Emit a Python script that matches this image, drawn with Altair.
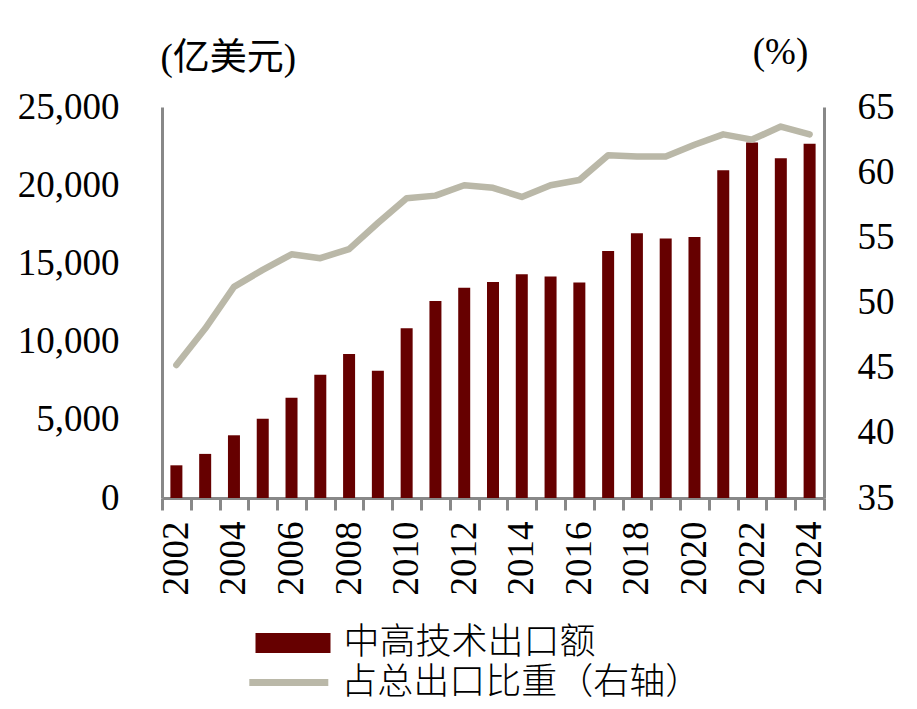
import altair as alt
import pandas as pd

years = ["2002", "2003", "2004", "2005", "2006", "2007", "2008", "2009", "2010", "2011", "2012",
         "2013", "2014", "2015", "2016", "2017", "2018", "2019", "2020", "2021", "2022", "2023", "2024"]
export_value = [2090, 2820, 4010, 5060, 6410, 7880, 9210, 8140, 10850, 12600, 13440,
                13810, 14310, 14170, 13780, 15790, 16920, 16600, 16690, 20960, 22730, 21730, 22650]
share_pct = [45.2, 48.0, 51.2, 52.5, 53.7, 53.4, 54.1, 56.1, 58.0, 58.2, 59.0,
             58.8, 58.1, 59.0, 59.4, 61.3, 61.2, 61.2, 62.1, 62.9, 62.5, 63.5, 62.9]
bar_name = "中高技术出口额"
line_name = "占总出口比重（右轴）"
left_ticks = [0, 5000, 10000, 15000, 20000, 25000]
right_ticks = [35, 40, 45, 50, 55, 60, 65]

df = pd.DataFrame({"year": years, "value": export_value, "share": share_pct,
                   "bar_s": bar_name, "line_s": line_name})

FONT = "Liberation Serif, Times New Roman, Noto Sans CJK SC"
GRAY = "#888888"
BAR = "#660000"
LINE = "#BAB8A8"

x_enc = alt.X(
    "year:O", title=None,
    scale=alt.Scale(paddingInner=0, paddingOuter=0),
    axis=alt.Axis(
        tickBand="extent", ticks=True, tickSize=12, tickWidth=3, tickColor=GRAY,
        domainColor=GRAY, domainWidth=3, labelAngle=-90, labelPadding=11,
        labelFont=FONT, labelFontSize=37, labelColor="black",
        labelExpr="parseInt(datum.label) % 2 == 0 ? datum.label : ''",
        labelOverlap=False, grid=False,
    ),
)

bars = alt.Chart(df).mark_bar(size=12).encode(
    x=x_enc,
    y=alt.Y("value:Q", scale=alt.Scale(domain=[0, 25000], nice=False),
            axis=alt.Axis(values=left_ticks, format=",.0f", ticks=False, grid=False,
                          domainColor=GRAY, domainWidth=3, labelPadding=43,
                          labelFont=FONT, labelFontSize=37, labelColor="black",
                          title="(亿美元)", titleAngle=0, titleAlign="left",
                          titleBaseline="middle", titleX=-2, titleY=-49,
                          titleFont=FONT, titleFontSize=37, titleFontWeight="normal",
                          titleColor="black")),
    color=alt.Color("bar_s:N", scale=alt.Scale(domain=[bar_name], range=[BAR]),
                    legend=alt.Legend(title=None, orient="none", legendX=113, legendY=518,
                                      symbolType="M-3.75,-1H3.75V1H-3.75Z", symbolSize=400,
                                      symbolStrokeWidth=0, symbolOpacity=1, padding=0,
                                      labelOffset=32.5, labelFont=FONT, labelFontSize=36,
                                      labelFontWeight=300,
                                      labelColor="black", labelLimit=0)),
)

line = alt.Chart(df).mark_line(strokeWidth=6.5, strokeCap="round", strokeJoin="round").encode(
    x=x_enc,
    y=alt.Y("share:Q", scale=alt.Scale(domain=[35, 65], nice=False, zero=False),
            axis=alt.Axis(orient="right", values=right_ticks, ticks=False, grid=False,
                          domainColor=GRAY, domainWidth=3, labelPadding=33,
                          labelFont=FONT, labelFontSize=37, labelColor="black",
                          title="(%)", titleAngle=0, titleAlign="center",
                          titleBaseline="middle", titleX=-44, titleY=-54.5,
                          titleFont=FONT, titleFontSize=37, titleFontWeight="normal",
                          titleColor="black")),
    stroke=alt.Stroke("line_s:N", scale=alt.Scale(domain=[line_name], range=[LINE]),
                      legend=alt.Legend(title=None, orient="none", legendX=108.8, legendY=557.5,
                                        symbolType="M-3.95,0H3.95", symbolSize=400,
                                        symbolStrokeWidth=7, padding=0,
                                        labelOffset=34.5, labelFont=FONT, labelFontSize=36,
                                        labelFontWeight=300,
                                        labelColor="black", labelLimit=0)),
)

chart = alt.layer(bars, line).resolve_scale(
    y="independent", color="independent", stroke="independent"
).properties(
    width=662, height=391,
    autosize=alt.AutoSizeParams(type="none"),
    padding={"left": 154, "top": 99, "right": 85, "bottom": 203},
    background="white",
).configure_view(stroke=None)

chart.save("out.html", embed_options={"renderer": "svg", "actions": False})
